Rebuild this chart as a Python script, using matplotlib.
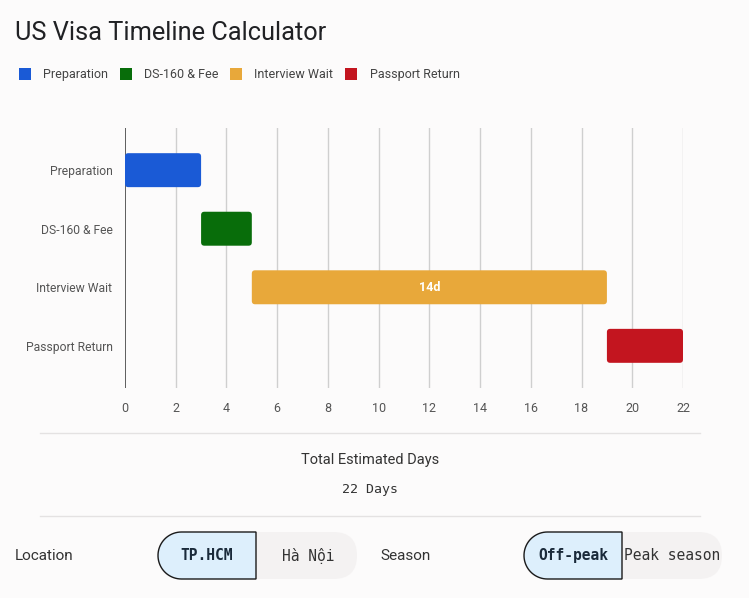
import numpy as np
import matplotlib
matplotlib.use("Agg")
import matplotlib.pyplot as plt
from matplotlib.patches import FancyBboxPatch, Rectangle, Polygon

# ---- data ----
categories = ["Preparation", "DS-160 & Fee", "Interview Wait", "Passport Return"]
starts = [0, 3, 5, 19]
durations = [3, 2, 14, 3]
colors = ["#1a5ad6", "#086d0a", "#e8a83a", "#c3151f"]
xticks = [0, 2, 4, 6, 8, 10, 12, 14, 16, 18, 20, 22]
total_days = 22
title = "US Visa Timeline Calculator"
summary_label = "Total Estimated Days"
location_opts = ["TP.HCM", "Hà Nội"]
season_opts = ["Off-peak", "Peak season"]

BG = "#fcfbfb"
W, H = 749, 598
fig = plt.figure(figsize=(W / 100, H / 100), dpi=100, facecolor=BG)

SANS = ["Roboto", "DejaVu Sans"]
MONO = ["DejaVu Sans Mono"]

# ---- main chart axes ----
ax = fig.add_axes([125 / W, (H - 388) / H, 558 / W, 260 / H])
ax.set_facecolor(BG)
ax.set_xlim(0, 22)
ax.set_ylim(3.72, -0.72)
bar_h = 0.58
px_x = 558 / 22
px_y = 260 / 4.44
for i, (s, d, c) in enumerate(zip(starts, durations, colors)):
    p = FancyBboxPatch((s, i - bar_h / 2), d, bar_h,
                       boxstyle="round,pad=0,rounding_size=0.13",
                       mutation_aspect=px_x / px_y,
                       facecolor=c, edgecolor="none", zorder=3)
    ax.add_patch(p)
    if d >= 5:
        ax.text(s + d / 2, i, f"{d}d", ha="center", va="center", color="white",
                fontsize=9, fontweight="bold", family=SANS, zorder=4)

for t in xticks[1:]:
    ax.axvline(t, color="#cfcfcf", lw=1, zorder=1)
ax.axvline(0, color="#333333", lw=1.1, zorder=2)
for sp in ax.spines.values():
    sp.set_visible(False)
ax.set_xticks(xticks)
ax.set_xticklabels([str(t) for t in xticks], family=SANS, fontsize=9, color="#555555")
ax.set_yticks(range(len(categories)))
ax.set_yticklabels(categories, family=SANS, fontsize=8.7, color="#555555")
ax.tick_params(axis="both", length=0)
ax.tick_params(axis="x", pad=10)
ax.tick_params(axis="y", pad=9)

# ---- overlay in pixel coordinates ----
ov = fig.add_axes([0, 0, 1, 1], facecolor="none")
ov.set_xlim(0, W)
ov.set_ylim(H, 0)
ov.axis("off")

ov.text(15, 33, title, fontsize=18.3, family=SANS, color="#202124", va="center", ha="left")

leg_sq_x = [19, 120, 230, 345]
leg_tx_x = [43, 144, 254, 370]
for sx, tx, lab, c in zip(leg_sq_x, leg_tx_x, categories, colors):
    ov.add_patch(Rectangle((sx, 68), 12, 12, facecolor=c, edgecolor="none"))
    ov.text(tx, 74.5, lab, fontsize=9, family=SANS, color="#444444", va="center", ha="left")

# separators
ov.plot([40, 700], [433, 433], color="#e4e2e2", lw=1)
ov.plot([40, 700], [516, 516], color="#e4e2e2", lw=1)
ov.text(370, 460, summary_label, fontsize=10.5, family=SANS, color="#333333",
        ha="center", va="center")
ov.text(370, 490, f"{total_days} Days", fontsize=9.5, family=MONO, color="#333333",
        ha="center", va="center")


def toggle(x0, xmid, x1, y0, y1, opts, label_x, label):
    r = (y1 - y0) / 2
    cy = (y0 + y1) / 2
    ov.add_patch(FancyBboxPatch((x0, y0), x1 - x0, y1 - y0,
                                boxstyle=f"round,pad=0,rounding_size={r}",
                                facecolor="#f4f2f2", edgecolor="none"))
    th = np.linspace(np.pi / 2, 3 * np.pi / 2, 40)
    pts = [(x0 + r + r * np.cos(t), cy - r * np.sin(t)) for t in th]
    pts += [(xmid, y1), (xmid, y0)]
    ov.add_patch(Polygon(pts, closed=True, facecolor="#ddeffc", edgecolor="#1a1a1a", lw=1))
    ov.text((x0 + xmid) / 2, cy, opts[0], fontsize=10.5, family=MONO, fontweight="bold",
            color="#1a2a3a", ha="center", va="center")
    ov.text(label_x, cy, label, fontsize=11, family=SANS, color="#333333",
            ha="left", va="center")


toggle(158, 256, 357, 532, 579, location_opts, 15, "Location")
ov.text(308, 555.5, location_opts[1], fontsize=10.5, family=MONO, color="#333333",
        ha="center", va="center")
toggle(524, 622, 722, 532, 579, season_opts, 380, "Season")
ov.text(624, 555.5, season_opts[1], fontsize=10.5, family=MONO, color="#333333",
        ha="left", va="center")

fig.savefig("out.png", dpi=100, facecolor=BG)
